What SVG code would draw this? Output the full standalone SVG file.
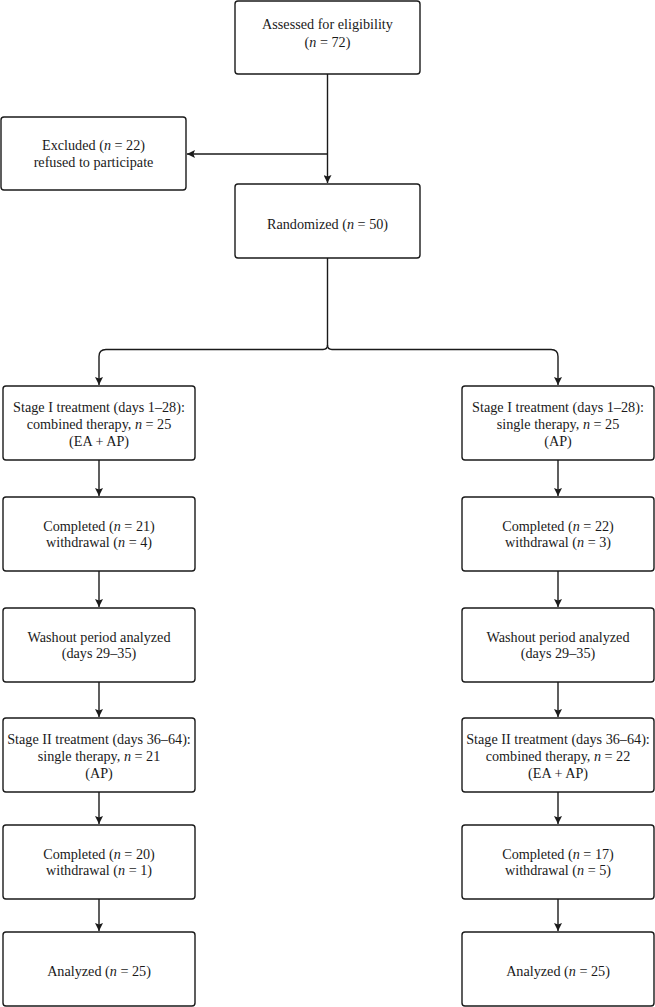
<svg xmlns="http://www.w3.org/2000/svg" width="655" height="1007" viewBox="0 0 655 1007">
<style>
.box{fill:#fff;stroke:#1a1a1a;stroke-width:1.4}
.t{font-family:"Liberation Serif","Times New Roman",serif;font-size:14.2px;fill:#1a1a1a;text-anchor:middle}
.i{font-style:italic}
.c{fill:none;stroke:#1a1a1a;stroke-width:1.4}
</style>
<defs>
<marker id="ah" markerWidth="8" markerHeight="8" viewBox="0 0 10 10" refX="10" refY="5" orient="auto" markerUnits="userSpaceOnUse">
<path d="M0,0 L10,5 L0,10 L2,5 Z" fill="#1a1a1a"/>
</marker>
</defs>
<rect width="655" height="1007" fill="#fff"/>
<g id="connectors">
<path class="c" d="M327.5,74 V183" marker-end="url(#ah)"/>
<path class="c" d="M327.5,154 H187" marker-end="url(#ah)"/>
<path class="c" d="M327.5,258 V345 Q327.5,349.5 323,349.5 H106 Q99,349.5 99,356.5 V385" marker-end="url(#ah)"/>
<path class="c" d="M327.5,345 Q327.5,349.5 332,349.5 H551 Q558,349.5 558,356.5 V385" marker-end="url(#ah)"/>
<path class="c" d="M99,460 V496" marker-end="url(#ah)"/>
<path class="c" d="M99,571 V607" marker-end="url(#ah)"/>
<path class="c" d="M99,682 V717" marker-end="url(#ah)"/>
<path class="c" d="M99,792 V824" marker-end="url(#ah)"/>
<path class="c" d="M99,899 V931" marker-end="url(#ah)"/>
<path class="c" d="M558,460 V496" marker-end="url(#ah)"/>
<path class="c" d="M558,571 V607" marker-end="url(#ah)"/>
<path class="c" d="M558,682 V717" marker-end="url(#ah)"/>
<path class="c" d="M558,792 V824" marker-end="url(#ah)"/>
<path class="c" d="M558,899 V931" marker-end="url(#ah)"/>
</g>
<g id="assessed">
<rect class="box" x="235" y="1" width="185" height="73" rx="3"/>
<text class="t" x="327.5" y="28.5">Assessed for eligibility</text>
<text class="t" x="327.5" y="46.5">(<tspan class="i">n</tspan> = 72)</text>
</g>
<g id="excluded">
<rect class="box" x="1" y="117" width="185" height="73" rx="3"/>
<text class="t" x="93.5" y="150">Excluded (<tspan class="i">n</tspan> = 22)</text>
<text class="t" x="93.5" y="166.5">refused to participate</text>
</g>
<g id="randomized">
<rect class="box" x="235" y="184" width="185" height="74" rx="3"/>
<text class="t" x="327.5" y="228.5">Randomized (<tspan class="i">n</tspan> = 50)</text>
</g>
<g id="l-stage1">
<rect class="box" x="3" y="386" width="192" height="74" rx="3"/>
<text class="t" x="99" y="412">Stage I treatment (days 1–28):</text>
<text class="t" x="99" y="428.5">combined therapy, <tspan class="i">n</tspan> = 25</text>
<text class="t" x="99" y="445.5">(EA + AP)</text>
</g>
<g id="l-completed1">
<rect class="box" x="3" y="497" width="192" height="74" rx="3"/>
<text class="t" x="99" y="530.5">Completed (<tspan class="i">n</tspan> = 21)</text>
<text class="t" x="99" y="547">withdrawal (<tspan class="i">n</tspan> = 4)</text>
</g>
<g id="l-washout">
<rect class="box" x="3" y="608" width="192" height="74" rx="3"/>
<text class="t" x="99" y="641.5">Washout period analyzed</text>
<text class="t" x="99" y="658">(days 29–35)</text>
</g>
<g id="l-stage2">
<rect class="box" x="3" y="718" width="192" height="74" rx="3"/>
<text class="t" x="99" y="744">Stage II treatment (days 36–64):</text>
<text class="t" x="99" y="760.5">single therapy, <tspan class="i">n</tspan> = 21</text>
<text class="t" x="99" y="777.5">(AP)</text>
</g>
<g id="l-completed2">
<rect class="box" x="3" y="825" width="192" height="74" rx="3"/>
<text class="t" x="99" y="858.5">Completed (<tspan class="i">n</tspan> = 20)</text>
<text class="t" x="99" y="875">withdrawal (<tspan class="i">n</tspan> = 1)</text>
</g>
<g id="l-analyzed">
<rect class="box" x="3" y="932" width="192" height="74" rx="3"/>
<text class="t" x="99" y="975.5">Analyzed (<tspan class="i">n</tspan> = 25)</text>
</g>
<g id="r-stage1">
<rect class="box" x="462" y="386" width="192" height="74" rx="3"/>
<text class="t" x="558" y="412">Stage I treatment (days 1–28):</text>
<text class="t" x="558" y="428.5">single therapy, <tspan class="i">n</tspan> = 25</text>
<text class="t" x="558" y="445.5">(AP)</text>
</g>
<g id="r-completed1">
<rect class="box" x="462" y="497" width="192" height="74" rx="3"/>
<text class="t" x="558" y="530.5">Completed (<tspan class="i">n</tspan> = 22)</text>
<text class="t" x="558" y="547">withdrawal (<tspan class="i">n</tspan> = 3)</text>
</g>
<g id="r-washout">
<rect class="box" x="462" y="608" width="192" height="74" rx="3"/>
<text class="t" x="558" y="641.5">Washout period analyzed</text>
<text class="t" x="558" y="658">(days 29–35)</text>
</g>
<g id="r-stage2">
<rect class="box" x="462" y="718" width="192" height="74" rx="3"/>
<text class="t" x="558" y="744">Stage II treatment (days 36–64):</text>
<text class="t" x="558" y="760.5">combined therapy, <tspan class="i">n</tspan> = 22</text>
<text class="t" x="558" y="777.5">(EA + AP)</text>
</g>
<g id="r-completed2">
<rect class="box" x="462" y="825" width="192" height="74" rx="3"/>
<text class="t" x="558" y="858.5">Completed (<tspan class="i">n</tspan> = 17)</text>
<text class="t" x="558" y="875">withdrawal (<tspan class="i">n</tspan> = 5)</text>
</g>
<g id="r-analyzed">
<rect class="box" x="462" y="932" width="192" height="74" rx="3"/>
<text class="t" x="558" y="975.5">Analyzed (<tspan class="i">n</tspan> = 25)</text>
</g>
</svg>
